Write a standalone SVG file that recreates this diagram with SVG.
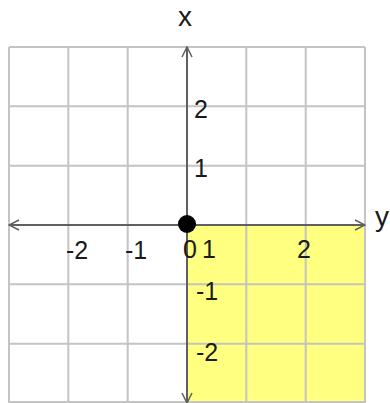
<svg xmlns="http://www.w3.org/2000/svg" width="390" height="403" viewBox="0 0 390 403">
<style>
.grid{stroke:#c4c4c4;stroke-width:2;fill:none}
.axis{stroke:#606060;stroke-width:2;fill:none}
.tick{font-family:"Liberation Sans",Arial,sans-serif;font-size:25px;fill:#1a1a1a}
.lbl{font-family:"Liberation Sans",Arial,sans-serif;font-size:28px;fill:#1a1a1a}
</style>
<defs>
<marker id="arr" viewBox="0 0 12 12" refX="11" refY="6" markerWidth="12" markerHeight="12" markerUnits="userSpaceOnUse" orient="auto-start-reverse">
<path d="M1,1 L11,6 L1,11" fill="none" stroke="#606060" stroke-width="1.5"/>
</marker>
</defs>
<rect width="390" height="403" fill="#fff"/>
<g id="region">
<rect x="187" y="225" width="178" height="178" fill="#ffff80"/>
</g>
<g id="grid">
<path class="grid" d="M9,47V403M68.3,47V403M127.7,47V403M246.3,47V403M305.7,47V403M365,47V403M9,47H365M9,106.3H365M9,165.7H365M9,284.3H365M9,343.7H365M9,402H365"/>
</g>
<g id="connectors">
<line class="axis" x1="9" y1="225" x2="365" y2="225" marker-start="url(#arr)" marker-end="url(#arr)"/>
<line class="axis" x1="187" y1="403" x2="187" y2="47" marker-start="url(#arr)" marker-end="url(#arr)"/>
</g>
<g id="origin">
<circle cx="187" cy="224" r="9" fill="#000"/>
</g>
<g id="labels">
<text class="lbl" x="185" y="26" text-anchor="middle">x</text>
<text class="lbl" x="375" y="226">y</text>
<text class="tick" x="194" y="118">2</text>
<text class="tick" x="194" y="177">1</text>
<text class="tick" x="66" y="259">-2</text>
<text class="tick" x="125" y="259">-1</text>
<text class="tick" x="183" y="258">0</text>
<text class="tick" x="202" y="258">1</text>
<text class="tick" x="297" y="258">2</text>
<text class="tick" x="196" y="300">-1</text>
<text class="tick" x="196" y="361">-2</text>
</g>
</svg>
